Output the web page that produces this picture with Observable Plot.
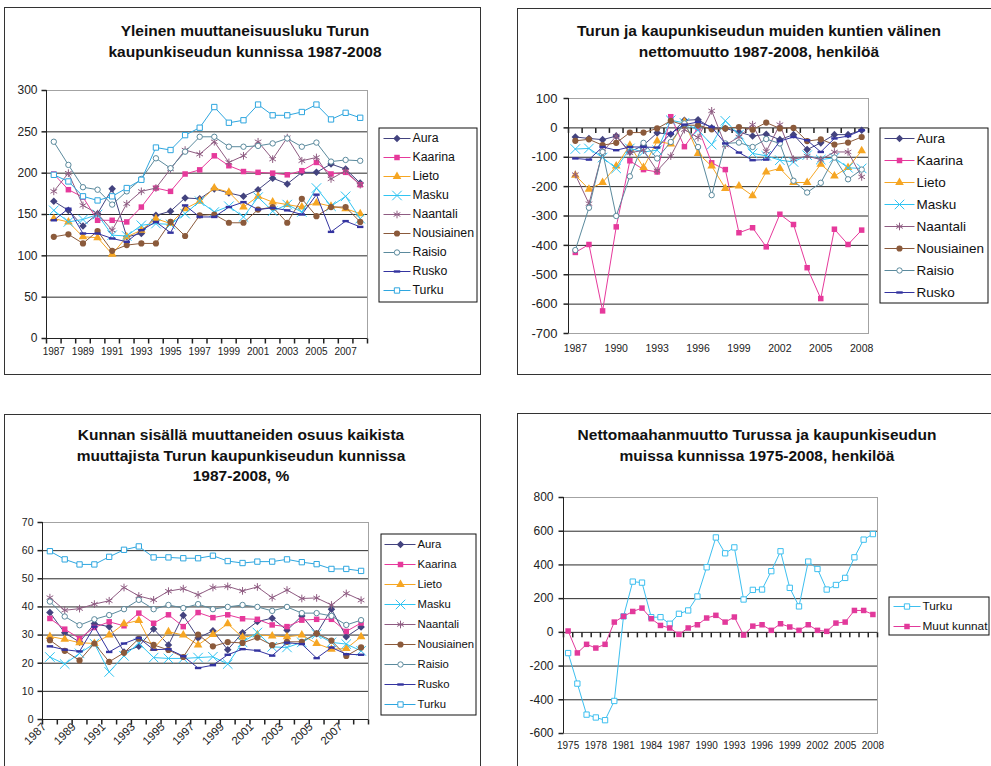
<!DOCTYPE html>
<html><head><meta charset="utf-8">
<script src="https://cdn.jsdelivr.net/npm/d3@7"></script>
<script src="https://cdn.jsdelivr.net/npm/@observablehq/plot@0.6"></script>
<style>
html,body{margin:0;padding:0;background:#fff;}
#root{position:relative;width:991px;height:766px;overflow:hidden;font-family:"Liberation Sans",Arial,sans-serif;color:#111;background:#fff;}
.panel{position:absolute;border:1px solid #333;box-sizing:border-box;}
.title{position:absolute;text-align:center;font-weight:bold;font-size:15.5px;line-height:20.5px;white-space:nowrap;color:#111;}
</style></head><body><div id="root"></div>
<script>
// ---------- categories ----------
const years87 = [1987,1988,1989,1990,1991,1992,1993,1994,1995,1996,1997,1998,1999,2000,2001,2002,2003,2004,2005,2006,2007,2008];
const years75 = [1975,1976,1977,1978,1979,1980,1981,1982,1983,1984,1985,1986,1987,1988,1989,1990,1991,1992,1993,1994,1995,1996,1997,1998,1999,2000,2001,2002,2003,2004,2005,2006,2007,2008];
const labelsOdd = [1987,1989,1991,1993,1995,1997,1999,2001,2003,2005,2007];
const labelsEvery3 = [1987,1990,1993,1996,1999,2002,2005,2008];
const labels75 = [1975,1978,1981,1984,1987,1990,1993,1996,1999,2002,2005,2008];
const ticksP1 = [0,50,100,150,200,250,300];
const ticksP2 = [-700,-600,-500,-400,-300,-200,-100,0,100];
const ticksP3 = [0,10,20,30,40,50,60,70];
const ticksP4 = [-600,-400,-200,0,200,400,600,800];
const municipalities = ["Aura","Kaarina","Lieto","Masku","Naantali","Nousiainen","Raisio","Rusko","Turku"];

// ---------- panel 1: Yleinen muuttaneisuusluku ----------
const mobilityRate = {
  Aura:       [166,155,136,151,181,123,127,149,154,170,169,181,176,172,180,194,187,201,201,211,205,188],
  Kaarina:    [199,180,171,143,143,141,159,182,178,199,204,221,209,202,201,200,198,203,213,199,201,186],
  Lieto:      [145,141,123,122,102,123,131,145,139,157,166,182,177,159,172,165,162,159,164,160,157,151],
  Masku:      [155,141,144,150,125,124,137,139,138,151,166,153,160,147,171,154,162,153,182,160,172,145],
  Naantali:   [178,200,161,151,131,163,178,182,205,228,223,238,213,221,238,217,243,215,219,193,203,186],
  Nousiainen: [123,126,115,130,106,113,115,115,141,124,149,150,140,140,156,159,140,169,148,159,159,141],
  Raisio:     [238,210,183,180,162,178,193,218,206,226,244,244,232,232,233,236,242,232,237,214,216,215],
  Rusko:      [143,157,127,127,121,117,131,141,128,161,147,147,159,165,156,158,155,150,174,129,142,135],
  Turku:      [198,190,172,167,172,182,192,231,228,246,255,280,261,264,283,270,270,274,283,265,273,267]
};
// ---------- panel 2: nettomuutto ----------
const netMigration = {
  Aura:       [-31,-36,-40,-28,-82,-59,-17,-22,26,28,0,-2,-14,-28,-22,-40,-23,-74,-51,-23,-23,-8],
  Kaarina:    [-424,-397,-623,-337,-112,-142,-150,38,-64,0,-119,-142,-357,-340,-405,-294,-329,-476,-581,-345,-397,-348],
  Lieto:      [-161,-209,-186,-130,-59,-135,-45,-55,20,-87,-130,-206,-198,-231,-150,-138,-186,-186,-124,-164,-135,-78],
  Masku:      [-72,-70,-101,-138,-70,-82,-76,26,17,-8,-57,24,-23,-87,-95,-110,-116,-93,-108,-102,-136,-138],
  Naantali:   [-159,-258,-82,-28,-85,-76,-146,-96,-6,-33,58,-59,-31,11,-80,11,-107,-96,-108,-82,-82,-167],
  Nousiainen: [-44,-39,-59,-51,-16,-16,-2,24,9,9,-5,-2,3,-6,18,-2,0,-45,-39,-57,-50,-31],
  Raisio:     [-416,-272,-82,-300,-165,-51,-104,-48,15,-65,-229,-53,-50,-65,-38,-53,-180,-220,-187,-101,-175,-142],
  Rusko:      [-104,-108,-65,-76,-65,-65,-67,-19,11,20,3,-53,-84,-110,-108,-45,-31,-42,-82,-36,-28,-8]
};
// ---------- panel 3: kunnan sisällä muuttaneiden osuus, % ----------
const withinShare = {
  Aura:       [38.0,30.8,27.5,34.0,33.0,24.0,26.0,32.2,26.5,37.0,29.0,31.5,24.8,30.8,34.8,36.0,31.7,36.8,30.5,39.2,29.4,32.9],
  Kaarina:    [35.9,32.1,28.8,32.7,34.7,33.3,37.8,34.2,37.2,33.0,38.0,36.2,37.2,35.8,35.6,33.6,33.0,35.3,35.6,35.6,31.3,34.3],
  Lieto:      [29.5,28.5,27.3,27.0,30.0,34.0,35.2,25.2,31.2,30.0,26.5,30.2,34.0,29.2,30.1,29.7,29.4,30.0,27.0,25.0,25.2,29.4],
  Masku:      [22.2,19.7,23.5,27.0,16.9,22.6,27.1,22.0,21.7,21.7,22.0,22.3,19.7,27.4,30.9,25.8,25.6,27.4,30.3,27.4,26.8,24.4],
  Naantali:   [43.3,38.8,39.4,41.0,42.2,46.9,43.9,42.5,45.6,46.5,44.3,46.9,47.3,45.7,47.1,43.3,46.0,43.0,43.2,40.7,44.8,42.4],
  Nousiainen: [28.2,24.4,21.0,27.0,20.5,23.7,28.7,26.5,24.7,22.2,30.2,26.0,27.5,27.2,29.1,26.4,27.6,27.6,30.6,28.0,22.6,25.6],
  Raisio:     [41.9,36.6,33.5,35.6,37.1,39.2,42.5,39.2,40.7,39.6,41.0,39.2,40.0,40.7,40.0,38.6,40.0,37.8,37.8,36.8,33.6,35.3],
  Rusko:      [26.0,24.8,24.2,33.0,24.0,27.0,29.0,24.8,25.0,22.5,18.3,19.3,23.0,25.0,24.5,22.7,27.3,26.8,21.8,25.6,23.2,23.0],
  Turku:      [59.8,56.9,55.1,55.1,57.8,60.3,61.5,57.6,57.6,57.3,57.3,58.2,56.3,55.6,56.1,56.1,56.9,55.9,55.2,53.5,53.5,52.8]
};
// ---------- panel 4: nettomaahanmuutto ----------
const immigrationTurku  = [-123,-304,-488,-505,-521,-407,95,301,295,90,90,51,110,130,213,386,563,469,504,195,252,254,363,481,264,154,420,376,254,281,323,445,550,583];
const immigrationOthers = [8,-122,-71,-93,-71,61,95,124,144,81,41,26,-12,26,45,85,101,61,91,-16,37,45,12,51,32,12,45,12,6,55,61,130,130,106];

// ---------- styles ----------
const FONT = '"Liberation Sans", Arial, sans-serif';
const dash = {draw(ctx){ ctx.rect(-3.2,-1.2,6.4,2.4); }};
const tickDown = {draw(ctx){ ctx.moveTo(0,0); ctx.lineTo(0,5); }};
const tickLeft = {draw(ctx){ ctx.moveTo(0,0); ctx.lineTo(-5,0); }};
const seriesStyle = {
  Aura:       {color:"#43437F", symbol:"diamond2", r:3.4, kind:"fill"},
  Kaarina:    {color:"#E6399B", symbol:"square",   r:3.1, kind:"fill"},
  Lieto:      {color:"#F6A623", symbol:"triangle", r:3.2, kind:"fill"},
  Masku:      {color:"#30C4F2", symbol:"times",    r:4.4, kind:"stroke"},
  Naantali:   {color:"#8F5C82", symbol:"asterisk", r:3.6, kind:"stroke"},
  Nousiainen: {color:"#8B5A3B", symbol:"circle",   r:3.1, kind:"fill"},
  Raisio:     {color:"#5B8A9D", symbol:"circle",   r:2.7, kind:"open"},
  Rusko:      {color:"#3434A0", symbol:dash,       r:3,   kind:"fill"},
  Turku:      {color:"#2EA6DF", symbol:"square",   r:3.0, kind:"open"},
  "Turku4":   {color:"#3DBFEF", symbol:"square",   r:3.0, kind:"open"},
  "Muut kunnat": {color:"#E2399B", symbol:"square", r:3.1, kind:"fill"}
};
function paint(st){
  if (st.kind === "fill") return {fill: st.color, stroke: "none"};
  if (st.kind === "open") return {fill: "white", stroke: st.color};
  return {fill: "none", stroke: st.color};
}

const root = document.getElementById("root");
function place(el, left, top){ el.style.position="absolute"; el.style.left=left+"px"; el.style.top=top+"px"; root.appendChild(el); }
function panel(left, top, w, h){ const d=document.createElement("div"); d.className="panel"; d.style.width=w+"px"; d.style.height=h+"px"; place(d,left,top); }
function title(lines, cx, top){ const d=document.createElement("div"); d.className="title"; d.innerHTML=lines.join("<br>"); d.style.width="480px"; place(d, cx-240, top); }

function chart(cfg){
  const {left, top, w, h, years, yDomain, yTicks, xLabels, axisValue, series, yFont, xFont, xDy, yDx, rotate} = cfg;
  const mL=50, mR=8, mT=8, mB=50;
  const x0 = years[0]-0.5, x1 = years[years.length-1]+0.5;
  const bounds = years.map(y=>y-0.5).concat([x1]);
  const marks = [
    Plot.ruleY(yTicks.filter(t=>t!==axisValue), {y:d=>d, stroke:"#2a2a2a", strokeWidth:1}),
    Plot.frame({stroke:"#a3a3a3"}),
    Plot.ruleX([x0], {x:d=>d, stroke:"#222"}),
    Plot.ruleY([axisValue], {y:d=>d, stroke:"#222"}),
    Plot.dot(yTicks, {y:d=>d, frameAnchor:"left", symbol:tickLeft, stroke:"#222", fill:"none"}),
    Plot.dot(bounds, {x:d=>d, y:()=>axisValue, symbol:tickDown, stroke:"#222", fill:"none"}),
    Plot.text(yTicks, {y:d=>d, frameAnchor:"left", textAnchor:"end", dx:yDx, text:d=>String(d), fontSize:yFont, fill:"#222"})
  ];
  if (rotate) marks.push(Plot.text(xLabels, {x:d=>d, frameAnchor:"bottom", rotate:-45, textAnchor:"end", dx:-3, dy:8, text:d=>String(d), fontSize:xFont, fill:"#222"}));
  else marks.push(Plot.text(xLabels, {x:d=>d, frameAnchor:"bottom", dy:xDy, text:d=>String(d), fontSize:xFont, fill:"#222"}));
  for (const s of series){
    const st = seriesStyle[s.style];
    const data = years.map((yr,i)=>({year:yr, value:s.values[i]}));
    marks.push(Plot.line(data, {x:"year", y:"value", stroke:st.color, strokeWidth:1}));
    marks.push(Plot.dot(data, {x:"year", y:"value", symbol:st.symbol, r:st.r, strokeWidth:1, ...paint(st)}));
  }
  const svg = Plot.plot({width:mL+w+mR, height:mT+h+mB, marginLeft:mL, marginRight:mR, marginTop:mT, marginBottom:mB,
    x:{domain:[x0,x1], axis:null}, y:{domain:yDomain, axis:null},
    style:{background:"none", overflow:"visible", fontFamily:FONT}, marks});
  place(svg, left-mL, top-mT);
}

function legend(cfg){
  const {left, top, w, h, names, styles, first, last, lx1, lx2, mx, tx, font} = cfg;
  const marks = [Plot.frame({stroke:"#111", inset:0.5})];
  names.forEach((n,i)=>{
    const st = seriesStyle[styles[i]];
    marks.push(Plot.link([n], {x1:()=>lx1, x2:()=>lx2, y1:d=>d, y2:d=>d, stroke:st.color, strokeWidth:1}));
    marks.push(Plot.dot([n], {x:()=>mx, y:d=>d, symbol:st.symbol, r:st.r, strokeWidth:1, ...paint(st)}));
    marks.push(Plot.text([n], {x:()=>tx, y:d=>d, text:d=>d, textAnchor:"start", fontSize:font, fill:"#111"}));
  });
  const svg = Plot.plot({width:w, height:h, margin:0,
    x:{domain:[0,w], range:[0,w], axis:null}, y:{type:"point", domain:names, range:[first,last], padding:0, axis:null},
    style:{background:"none", overflow:"visible", fontFamily:FONT}, marks});
  place(svg, left, top);
}

// ---------- panel frames and titles ----------
panel(4, 7, 477, 368);
panel(517, 8, 475, 367);
panel(4, 414, 477, 370);
panel(517, 413, 480, 370);
title(["Yleinen muuttaneisuusluku Turun","kaupunkiseudun kunnissa 1987-2008"], 245, 21);
title(["Turun ja kaupunkiseudun muiden kuntien välinen","nettomuutto 1987-2008, henkilöä"], 759, 21);
title(["Kunnan sisällä muuttaneiden osuus kaikista","muuttajista Turun kaupunkiseudun kunnissa","1987-2008, %"], 241, 425);
title(["Nettomaahanmuutto Turussa ja kaupunkiseudun","muissa kunnissa 1975-2008, henkilöä"], 757, 425);

// ---------- charts ----------
const mk = (obj, names) => names.map(n=>({style:n, values:obj[n]}));
chart({left:46, top:90, w:321, h:248, years:years87, yDomain:[0,300], yTicks:ticksP1, xLabels:labelsOdd, axisValue:0,
  series:mk(mobilityRate, municipalities), yFont:12, xFont:10, xDy:16, yDx:-9});
legend({left:378, top:127, w:99, h:175, names:municipalities, styles:municipalities, first:10, last:164.7, lx1:5, lx2:32, mx:18.5, tx:34, font:12.3});

const m8 = municipalities.slice(0,8);
chart({left:568, top:98, w:300, h:235, years:years87, yDomain:[-700,100], yTicks:ticksP2, xLabels:labelsEvery3, axisValue:0,
  series:mk(netMigration, m8), yFont:13, xFont:10.5, xDy:18, yDx:-11});
legend({left:879, top:127, w:109, h:176, names:m8, styles:m8, first:11, last:165, lx1:5, lx2:35, mx:20, tx:37, font:13.5});

chart({left:42, top:522, w:326, h:197, years:years87, yDomain:[0,70], yTicks:ticksP3, xLabels:labelsOdd, axisValue:0,
  series:mk(withinShare, municipalities), yFont:10.5, xFont:11.5, rotate:true, yDx:-9});
legend({left:380, top:533, w:96, h:182, names:municipalities, styles:municipalities, first:10, last:172, lx1:4, lx2:35, mx:20, tx:37, font:11.3});

chart({left:563, top:497, w:314, h:236, years:years75, yDomain:[-600,800], yTicks:ticksP4, xLabels:labels75, axisValue:0,
  series:[{style:"Turku4", values:immigrationTurku},{style:"Muut kunnat", values:immigrationOthers}], yFont:12, xFont:10, xDy:15, yDx:-10});
legend({left:888, top:596, w:101, h:39, names:["Turku","Muut kunnat"], styles:["Turku4","Muut kunnat"], first:10, last:30, lx1:5, lx2:32, mx:18.5, tx:34, font:11.8});
</script></body></html>
